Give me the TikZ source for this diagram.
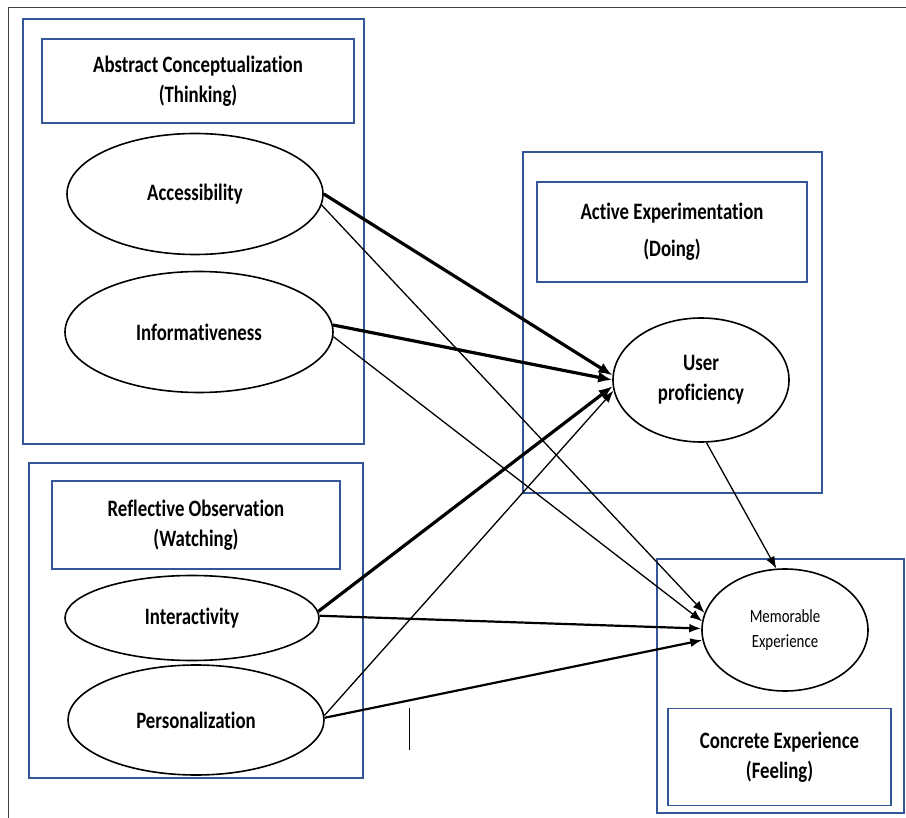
\documentclass[tikz,border=0pt]{standalone}
\usepackage{fontspec}
\setmainfont{Carlito}[FakeStretch=0.8,Ligatures=CommonOff]
\usetikzlibrary{shapes.geometric,arrows.meta}
\definecolor{boxblue}{RGB}{50,86,152}

\begin{document}
\begin{tikzpicture}[x=1pt,y=-1pt,
	frame/.style={draw=boxblue,line width=1.8pt},
	title/.style={frame,align=center,inner sep=0pt,font=\bfseries\fontsize{23.5}{30}\selectfont},
	var/.style={draw,ellipse,line width=1.6pt,inner sep=0pt,align=center,font=\bfseries\fontsize{23.5}{30}\selectfont},
	link/.style={-{Latex[length=12pt,width=9pt]},line width=1.3pt},
	mid/.style={link,line width=2.2pt},
	strong/.style={-{Latex[length=14pt,width=11pt]},line width=3.2pt}]
	\useasboundingbox (0,0) rectangle (906,818);
	\draw[black!75,line width=0.9pt] (8,818) -- (8,7) -- (906,7);
	
	\draw[frame] (23,19) rectangle (364,444);
	\node[title,minimum width=312pt,minimum height=84pt] (ac) at (198,81) {Abstract Conceptualization\\(Thinking)};
	\node[var,minimum width=256pt,minimum height=121pt] (acc) at (195,194) {Accessibility};
	\node[var,minimum width=268pt,minimum height=121pt] (inf) at (199,332) {Informativeness};
	
	\draw[frame] (29,463) rectangle (363,778);
	\node[title,minimum width=288pt,minimum height=88pt] (ro) at (196,525) {Reflective Observation\\(Watching)};
	\node[var,minimum width=254pt,minimum height=85pt] (int) at (192,618) {Interactivity};
	\node[var,minimum width=256pt,minimum height=110pt] (per) at (196,720) {Personalization};
	
	\draw[frame] (523,152) rectangle (822,493);
	\node[title,minimum width=270pt,minimum height=100pt] (ae) at (672,232) {Active Experimentation\\[7pt](Doing)};
	\node[var,minimum width=176pt,minimum height=124pt] (up) at (701,380) {User\\proficiency};
	
	\draw[frame] (657,559) rectangle (904,813);
	\node[title,minimum width=223pt,minimum height=97pt] (ce) at (779.5,757) {Concrete Experience\\(Feeling)};
	\node[var,minimum width=166pt,minimum height=122pt,font=\fontsize{18.6}{25}\selectfont] (me) at (785,630) {Memorable\\Experience};
	
	\draw[line width=0.8pt] (409,708) -- (409,750);
	
	\draw[strong] (acc.east) -- (up.177);
	\draw[link] (acc.-5) -- (me.168);
	\draw[strong] (inf.3) -- (up.180);
	\draw[link] (inf.-2) -- (me.174);
	\draw[strong] (int.3) -- (up.184);
	\draw[mid] (int.1) -- (me.179);
	\draw[link] (per.2) -- (up.187);
	\draw[mid] (per.1) -- (me.187);
	\draw[link] (up.-85) -- (me.98);
\end{tikzpicture}
\end{document}
